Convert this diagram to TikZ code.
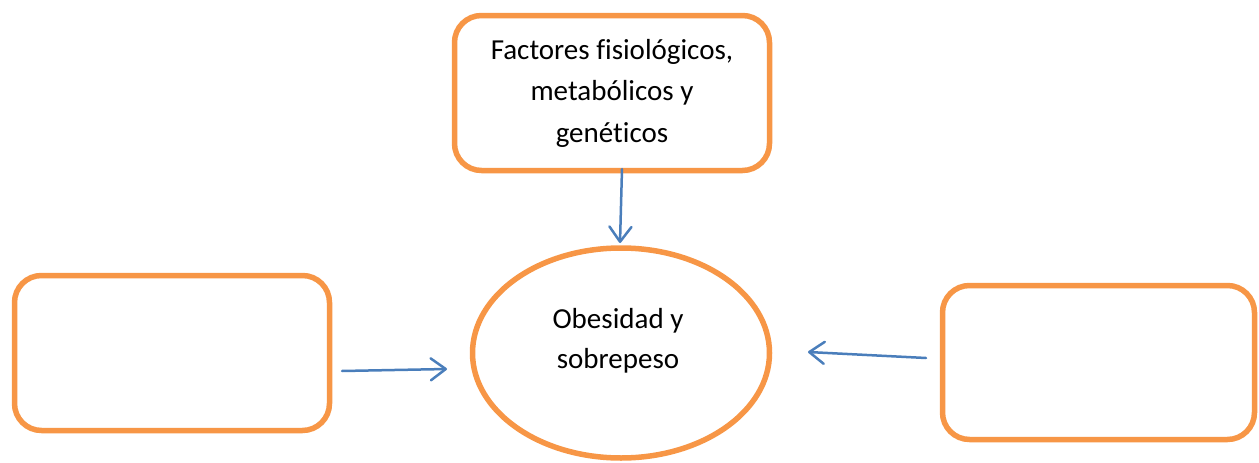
\documentclass[tikz,border=0pt]{standalone}
\usepackage{fontspec}
\setmainfont[Ligatures=NoCommon]{Carlito}
\usetikzlibrary{arrows.meta,shapes.geometric}
\definecolor{orng}{HTML}{F79646}
\definecolor{blu}{HTML}{4A7EBB}
\begin{document}
\begin{tikzpicture}[x=1pt,y=-1pt,
  box/.style={draw=orng, line width=5.5pt, rounded corners=27pt, fill=white,
    inner sep=0pt, align=center, font=\fontsize{29}{41.5}\selectfont},
  oval/.style={ellipse, draw=orng, line width=5.5pt, fill=white, inner sep=0pt,
    minimum width=297pt, minimum height=210pt},
  lbl/.style={align=center, font=\fontsize{29}{40}\selectfont, inner sep=0pt},
  conn/.style={draw=blu, line width=2.5pt, line cap=round,
    -{Straight Barb[length=15pt,width=22pt,line cap=round,line join=round]}}]
\useasboundingbox (0,0) rectangle (1259,463);
\node[box, minimum width=315pt, minimum height=155pt] (top) at (612,93)
  {Factores fisiológicos,\\metabólicos y\\genéticos};
\node[box, minimum width=315pt, minimum height=155pt] (left) at (172,353) {};
\node[box, minimum width=312pt, minimum height=154pt] (right) at (1098.5,362.5) {};
\node[oval] (ell) at (621,353) {};
\node[lbl] (ellt) at (618,341) {Obesidad y\\sobrepeso};
\coordinate (ta) at (622,169);
\coordinate (tb) at (620,243);
\coordinate (la) at (342,371);
\coordinate (lb) at (447,369);
\coordinate (ra) at (926,358);
\coordinate (rb) at (808,352);
\draw[conn] (ta) -- (tb);
\draw[conn] (la) -- (lb);
\draw[conn] (ra) -- (rb);
\end{tikzpicture}
\end{document}
